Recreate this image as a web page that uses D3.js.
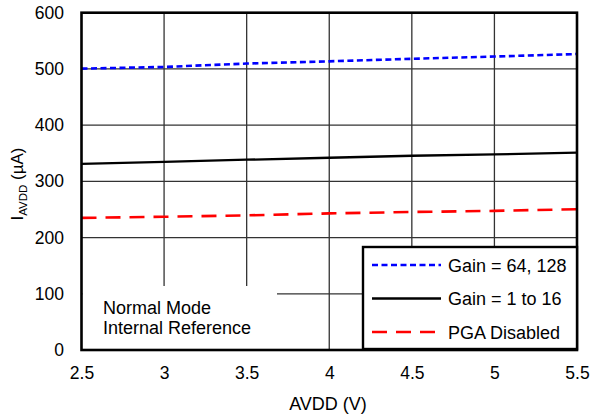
<!DOCTYPE html>
<html><head><meta charset="utf-8">
<script src="https://cdn.jsdelivr.net/npm/d3@7"></script>
<style>body{margin:0;background:#fff}svg{display:block}text{font-family:"Liberation Sans",Arial,sans-serif;fill:#000}</style>
</head><body><svg id="c" width="591" height="415"></svg>
<script>
const avdd = [2.5, 3, 3.5, 4, 4.5, 5, 5.5];
const gain64 = [500.5, 503.5, 509.5, 513.5, 518, 522, 526.5];
const gain1 = [331, 334.5, 338.5, 342, 345.5, 348, 351];
const pgaOff = [235, 237, 239.5, 243, 245.5, 247.5, 250.5];
const xTicks = [2.5, 3, 3.5, 4, 4.5, 5, 5.5];
const yTicks = [0, 100, 200, 300, 400, 500, 600];
const legendLabels = ["Gain = 64, 128", "Gain = 1 to 16", "PGA Disabled"];
const noteLines = ["Normal Mode", "Internal Reference"];

const svg = d3.select("#c");
const L = 81.5, R = 577, T = 12.7, B = 350;
const x = d3.scaleLinear().domain([2.5, 5.5]).range([L, R]);
const y = d3.scaleLinear().domain([0, 600]).range([B, T]);
const FF = '"Liberation Sans",Arial,sans-serif';

// gridlines
const g = svg.append("g");
g.selectAll(".vg").data(xTicks.slice(1, -1)).join("line")
  .attr("x1", d => x(d)).attr("x2", d => x(d)).attr("y1", T).attr("y2", B)
  .attr("stroke", "#333").attr("stroke-width", 1.3);
g.selectAll(".hg").data(yTicks.slice(1, -1)).join("line")
  .attr("x1", L).attr("x2", R).attr("y1", d => y(d)).attr("y2", d => y(d))
  .attr("stroke", "#333").attr("stroke-width", 1.3);

// axes (labels only)
const xa = svg.append("g").attr("transform", `translate(0,${B})`)
  .call(d3.axisBottom(x).tickValues(xTicks).tickSize(0).tickPadding(16.5).tickFormat(d3.format("")));
xa.select(".domain").remove();
xa.selectAll("text").attr("font-size", 17.5).style("font-family", FF);
const ya = svg.append("g").attr("transform", `translate(${L},0)`)
  .call(d3.axisLeft(y).tickValues(yTicks).tickSize(0).tickPadding(17.5));
ya.select(".domain").remove();
ya.selectAll("text").attr("font-size", 17.5).style("font-family", FF);

// series
const line = d3.line().x((d, i) => x(avdd[i])).y(d => y(d));
const series = [
  {v: gain64, c: "#0000ff", dash: "6,3.5", w: 2.6},
  {v: gain1, c: "#000", dash: null, w: 2.3},
  {v: pgaOff, c: "#ff0000", dash: "15,9", w: 2.6}
];
series.forEach(s => {
  svg.append("path").datum(s.v).attr("d", line).attr("fill", "none")
    .attr("stroke", s.c).attr("stroke-width", s.w).attr("stroke-dasharray", s.dash);
});

// note box
svg.append("rect").attr("x", L + 1).attr("y", 286).attr("width", 277 - L - 1).attr("height", B - 286 - 1).attr("fill", "#fff");
noteLines.forEach((t, i) => svg.append("text").attr("x", 103).attr("y", 313.5 + i * 20.5).attr("font-size", 18).text(t));

// frame
svg.append("rect").attr("x", L).attr("y", T).attr("width", R - L).attr("height", B - T)
  .attr("fill", "none").attr("stroke", "#000").attr("stroke-width", 2.6);

// legend
const lg = svg.append("g");
lg.append("rect").attr("x", 363).attr("y", 247).attr("width", 214).attr("height", 102)
  .attr("fill", "#fff").attr("stroke", "#000").attr("stroke-width", 2.4);
legendLabels.forEach((t, i) => {
  const yy = 265 + i * 33.5;
  const s = series[i];
  lg.append("line").attr("x1", 372).attr("x2", 441).attr("y1", yy).attr("y2", yy)
    .attr("stroke", s.c).attr("stroke-width", s.w).attr("stroke-dasharray", s.dash);
  lg.append("text").attr("x", 448).attr("y", yy + 6.5).attr("font-size", 18).text(t);
});

// axis titles
svg.append("text").attr("x", 328).attr("y", 410).attr("text-anchor", "middle").attr("font-size", 18).text("AVDD (V)");
const yt = svg.append("text").attr("transform", `translate(23,184) rotate(-90)`).attr("text-anchor", "middle").attr("font-size", 17);
yt.append("tspan").text("I");
yt.append("tspan").attr("font-size", 11.5).attr("dy", 4).text("AVDD");
yt.append("tspan").attr("dy", -4).text(" (µA)");
</script></body></html>
